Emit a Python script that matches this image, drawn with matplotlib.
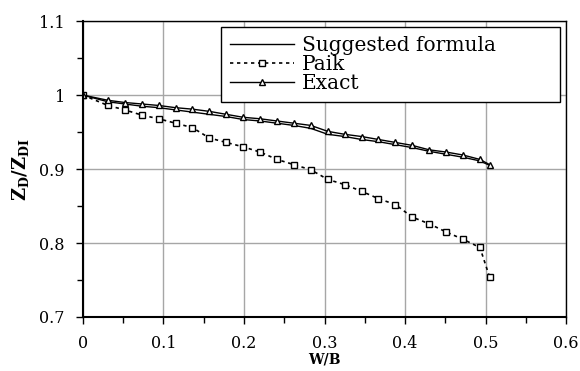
import numpy as np
import matplotlib
matplotlib.use("Agg")
import matplotlib.pyplot as plt
from matplotlib.ticker import MultipleLocator

plt.rcParams["font.family"] = ["DejaVu Serif"]
plt.rcParams["mathtext.fontset"] = "dejavuserif"

# W/B positions shared by all three series
wb = [0.0, 0.031, 0.052, 0.073, 0.094, 0.115, 0.136, 0.157, 0.178, 0.199,
      0.220, 0.241, 0.262, 0.283, 0.304, 0.325, 0.346, 0.367, 0.388, 0.409,
      0.430, 0.451, 0.472, 0.493, 0.505]

suggested = [1.000, 0.991, 0.988, 0.985, 0.983, 0.980, 0.977, 0.974, 0.971, 0.967,
             0.965, 0.962, 0.959, 0.955, 0.947, 0.944, 0.940, 0.937, 0.933, 0.929,
             0.924, 0.920, 0.916, 0.911, 0.905]

paik = [1.000, 0.986, 0.980, 0.973, 0.968, 0.962, 0.956, 0.942, 0.936, 0.930,
        0.923, 0.913, 0.906, 0.899, 0.886, 0.879, 0.870, 0.860, 0.852, 0.835,
        0.826, 0.815, 0.805, 0.794, 0.754]

exact = [1.000, 0.993, 0.990, 0.988, 0.986, 0.983, 0.981, 0.978, 0.974, 0.970,
         0.968, 0.965, 0.962, 0.959, 0.951, 0.947, 0.944, 0.940, 0.936, 0.932,
         0.926, 0.923, 0.919, 0.913, 0.906]

x_ticks = [0, 0.1, 0.2, 0.3, 0.4, 0.5, 0.6]
x_labels = ["0", "0.1", "0.2", "0.3", "0.4", "0.5", "0.6"]
y_ticks = [0.7, 0.8, 0.9, 1.0, 1.1]
y_labels = ["0.7", "0.8", "0.9", "1", "1.1"]

fig = plt.figure(figsize=(5.8, 3.71), dpi=100)
ax = fig.add_axes([0.143, 0.1456, 0.833, 0.7974])

ax.plot(wb, suggested, color="black", lw=1.0, label="Suggested formula")
ax.plot(wb, paik, color="black", lw=1.2, ls=(0, (2, 2.2)),
        marker="s", ms=4.5, mfc="white", mec="black", mew=1.0, label="Paik")
ax.plot(wb, exact, color="black", lw=1.0,
        marker="^", ms=5, mfc="white", mec="black", mew=1.0, label="Exact")

ax.set_xlim(0, 0.6)
ax.set_ylim(0.7, 1.1)
ax.set_xticks(x_ticks)
ax.set_xticklabels(x_labels)
ax.set_yticks(y_ticks)
ax.set_yticklabels(y_labels)
ax.xaxis.set_minor_locator(MultipleLocator(0.05))
ax.yaxis.set_minor_locator(MultipleLocator(0.05))
ax.tick_params(which="both", direction="out", color="black", labelsize=11.5, pad=8)
ax.tick_params(which="major", length=5, width=1)
ax.tick_params(which="minor", length=4, width=1)
ax.grid(True, which="major", color="#a6a6a6", lw=1.0)
ax.set_axisbelow(True)

for s in ["left", "bottom"]:
    ax.spines[s].set_linewidth(1.5)
for s in ["top", "right"]:
    ax.spines[s].set_linewidth(1.0)

ax.set_xlabel("W/B", fontweight="bold", fontsize=10, labelpad=0)
ax.set_ylabel(r"$\mathbf{Z_{D}/Z_{DI}}$", fontsize=13, labelpad=6)

leg = ax.legend(loc="upper left", bbox_to_anchor=(0.285, 0.98, 0.703, 0.0),
                mode="expand", borderaxespad=0, fancybox=False, framealpha=1,
                edgecolor="black", fontsize=14.5, handlelength=3.2,
                handletextpad=0.4, labelspacing=0.0, borderpad=0.45)
leg.get_frame().set_linewidth(1.0)

fig.savefig("out.png", dpi=100)
